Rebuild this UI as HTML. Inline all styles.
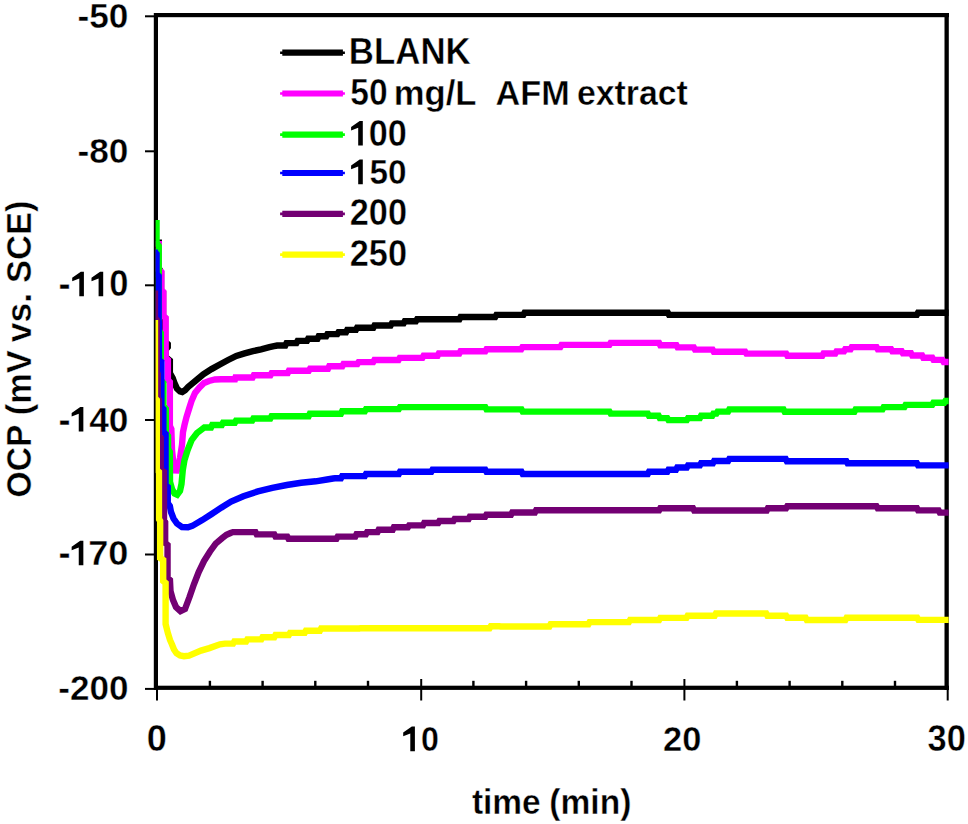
<!DOCTYPE html>
<html>
<head>
<meta charset="utf-8">
<style>
html,body{margin:0;padding:0;background:#fff;}
body{width:968px;height:824px;overflow:hidden;}
svg{display:block;}
text{font-family:"Liberation Sans",sans-serif;font-weight:bold;font-size:36px;fill:#000;font-kerning:none;stroke:#fff;stroke-width:0.4px;}
</style>
</head>
<body>
<svg width="968" height="824" viewBox="0 0 968 824">
<rect x="0" y="0" width="968" height="824" fill="#fff"/>
<g fill="#000">
<rect x="154" y="13" width="795" height="4.2"/>
<rect x="944.5" y="13" width="4.3" height="677"/>
<rect x="154" y="685.7" width="795" height="4.2"/>
<rect x="153.8" y="13" width="4.2" height="677"/>
</g>
<g stroke="#000" stroke-width="2">
<line x1="145" y1="16.3" x2="154" y2="16.3"/>
<line x1="145" y1="151.3" x2="154" y2="151.3"/>
<line x1="145" y1="285.3" x2="154" y2="285.3"/>
<line x1="145" y1="420" x2="154" y2="420"/>
<line x1="145" y1="554.5" x2="154" y2="554.5"/>
<line x1="145" y1="688.9" x2="154" y2="688.9"/>
<line x1="157" y1="686" x2="157" y2="700.5"/>
<line x1="421.2" y1="679" x2="421.2" y2="700.5"/>
<line x1="684.4" y1="679" x2="684.4" y2="700.5"/>
<line x1="947.7" y1="686" x2="947.7" y2="700.5"/>
</g>
<g stroke="#000" stroke-width="2.4">
<line x1="209.9" y1="680.8" x2="209.9" y2="686"/>
<line x1="262.6" y1="680.8" x2="262.6" y2="686"/>
<line x1="315.3" y1="680.8" x2="315.3" y2="686"/>
<line x1="368.0" y1="680.8" x2="368.0" y2="686"/>
<line x1="473.4" y1="680.8" x2="473.4" y2="686"/>
<line x1="526.1" y1="680.8" x2="526.1" y2="686"/>
<line x1="578.8" y1="680.8" x2="578.8" y2="686"/>
<line x1="631.5" y1="680.8" x2="631.5" y2="686"/>
<line x1="736.9" y1="680.8" x2="736.9" y2="686"/>
<line x1="789.6" y1="680.8" x2="789.6" y2="686"/>
<line x1="842.3" y1="680.8" x2="842.3" y2="686"/>
<line x1="895.0" y1="680.8" x2="895.0" y2="686"/>
</g>
<defs><clipPath id="pc"><rect x="155.6" y="0" width="793.2" height="824"/></clipPath></defs>
<g clip-path="url(#pc)" fill="none" stroke-width="6.4" stroke-linejoin="miter" stroke-miterlimit="2.5" stroke-linecap="butt">
<path stroke="#000000" d="M158.75,239.5 L158.75,268 L161,272 L161,290 L163,292 L163,316 L165,318 L165,341.5 L167.75,344.2 L167.75,347 L165.5,349.8 L165.5,357 L169.85,360.5 L169.85,373 L172.7,378 L174.5,383 L177,388.5 L180,391.3 L182.3,392 L185,390.3 L188,387 L195,381.3 L203.3,374.3 L211.5,369.1 L219.8,364.5 L228.1,360 L236.3,355.9 L244.6,353.4 L252.9,351.1 L261.1,349.3 L269.4,347.2 L274,346.2 L277.2,345.5 L285.3,345.5 L286.5,343.1 L296.4,343.1 L297.6,340.9 L307,340.9 L308.2,338.7 L317.5,338.7 L318.7,336.3 L326.2,336.3 L327.4,334.1 L337.3,334.1 L338.5,332.2 L346,332.2 L347.2,329.9 L355.9,329.9 L357.1,327.7 L373.3,327.7 L374.5,325.5 L390.6,325.5 L391.8,323.4 L403.6,323.4 L404.8,321.2 L415.9,321.2 L417.1,319.3 L459.4,319.3 L460.6,317 L495.2,317 L496.4,314.9 L523.4,314.9 L524.6,312.7 L667.8,312.7 L669,314.9 L916.8,314.9 L918,312.8 L948.8,312.8"/>
<path stroke="#ff00ff" d="M158.75,241 L158.75,270 L161.35,272 L161.35,290 L163.35,292 L163.35,316 L165.65,318 L165.65,358 L167.9,360 L167.9,380 L169.85,382 L169.85,426 L171.35,429 L172,450 L173.5,464 L176,472.5 L178.3,467 L180,458 L182,445 L183,432 L184.5,425 L186.5,417 L189,409 L191.5,401 L195,393 L199.5,387.5 L204,383 L209,381 L215,379.5 L221,379.2 L235,379.2 L235.5,377.5 L252.6,377.5 L253.8,375.3 L270.4,375.3 L271.6,373.1 L287.7,373.1 L288.9,370.7 L308.8,370.7 L310,368.8 L328,368.8 L329.2,366.3 L342.3,366.3 L343.5,364 L357.4,364 L358.6,362.1 L373.2,362.1 L374.4,360 L398.5,360 L399.7,357.9 L422.4,357.9 L423.6,355.7 L437.6,355.7 L438.8,353.5 L459.3,353.5 L460.5,351.3 L485.3,351.3 L486.5,349.2 L521.2,349.2 L522.4,347.1 L560.3,347.1 L561.5,344.9 L609.4,344.9 L610.6,342.9 L659.1,342.9 L660.3,345.2 L676.4,345.2 L677.6,347.4 L693.8,347.4 L695,349.6 L712.6,349.6 L713.8,351.7 L745.2,351.7 L746.4,353.6 L786.2,353.6 L787.4,355.7 L822.3,355.7 L823.5,353.5 L835.3,353.5 L836.5,351.4 L844,351.4 L845.2,349.3 L850.5,349.3 L851.7,347.1 L876.6,347.1 L877.8,349.2 L891.1,349.2 L892.3,351.2 L901.7,351.2 L902.9,353.3 L911,353.3 L912.2,355.5 L922.1,355.5 L923.3,357.8 L932.3,357.8 L933.5,359.9 L942.5,359.9 L943.7,362 L948.8,362"/>
<path stroke="#00ff00" d="M156.55,220 L156.55,243 L158.75,246 L158.75,330 L160.75,333 L160.75,380 L163.35,383 L163.35,406 L165.85,409 L165.85,433 L168.05,436 L168.05,449 L169.85,452 L170,482 L172,489 L174.5,493.5 L177.2,494.8 L180,491 L181.5,484 L182.8,470 L184.5,460 L187.6,450 L191.6,440 L197,433 L201,430 L204.3,427.5 L211,427.5 L212.2,425 L221.8,425 L223,422.8 L234.8,422.8 L236,420.6 L252.2,420.6 L253.4,418.5 L270.3,418.5 L271.5,416.3 L308.6,416.3 L309.8,413.8 L340.9,413.8 L342.1,411.3 L364.8,411.3 L366,409.1 L398.8,409.1 L400,407.1 L485.3,407.1 L486.5,409.4 L521.5,409.4 L522.7,411.6 L609.5,411.6 L610.7,413.6 L647.8,413.6 L649,415.8 L658.6,415.8 L659.8,418.1 L667.3,418.1 L668.5,420.1 L686.8,420.1 L688,418.1 L699.9,418.1 L701.1,415.8 L712.2,415.8 L713.4,413.6 L716.4,413.6 L717.6,411.6 L728.1,411.6 L729.3,409.4 L783.5,409.4 L784.7,411.7 L854.4,411.7 L855.6,409.4 L882.5,409.4 L883.7,407.1 L904.4,407.1 L905.6,404.9 L932.2,404.9 L933.4,402.8 L944.2,402.8 L945.4,401 L948.8,401"/>
<path stroke="#0000ff" d="M154.75,249.5 L154.75,252 L156.55,254 L156.55,274 L158.6,276 L158.6,320 L158.95,322 L158.95,360 L161.4,362 L161.4,407 L163.35,409 L163.35,432 L165.55,434 L165.55,485 L167.75,487 L167.75,503 L169.85,506 L171,512 L173.5,518.5 L177,523.5 L182,527 L188,527.2 L192.3,525.9 L202.2,520.1 L211.3,514.3 L221.2,507.7 L231.1,501.5 L243.4,496.2 L257.9,491.4 L272.3,487.8 L286.8,485 L301.2,482.8 L315.7,481.3 L327,479.5 L333,478.5 L335,478.3 L340.9,478.3 L342.1,476.1 L364.8,476.1 L366,474 L398.8,474 L400,471.8 L431.3,471.8 L432.5,469.7 L485.3,469.7 L486.5,471.8 L521.5,471.8 L522.7,474 L647.8,474 L649,471.8 L667.3,471.8 L668.5,469.7 L676,469.7 L677.2,467.5 L686.8,467.5 L688,465.4 L699.9,465.4 L701.1,463.2 L712.9,463.2 L714.1,461 L728.1,461 L729.3,458.9 L785.7,458.9 L786.9,461.2 L846.4,461.2 L847.6,463.3 L916.9,463.3 L918.1,465.4 L948.8,465.4"/>
<path stroke="#730073" d="M154.95,290.5 L154.95,318 L156.75,320 L156.75,372 L157.75,374 L157.75,398 L158.95,400 L158.95,436 L160.75,438 L160.75,470 L164,472 L164,520 L165.15,522 L165.15,543 L167.55,545 L167.55,578 L169.95,580 L170.5,591 L173,600 L176,607 L180.5,611.2 L185,609 L189.5,597 L194,584 L198.7,572 L204,561 L210,551.5 L215.7,543.6 L222,538.3 L226.5,534.8 L230.5,533 L233,532.1 L255.5,532.1 L256.7,534.4 L274.3,534.4 L275.5,536.6 L287.3,536.6 L288.5,538.7 L336.5,538.7 L337.7,536.6 L355.3,536.6 L356.5,534.2 L365.9,534.2 L367.1,532.1 L377.5,532.1 L378.7,529.7 L392.7,529.7 L393.9,527.2 L407.9,527.2 L409.1,525.4 L423,525.4 L424.2,523 L438.2,523 L439.4,521 L453.4,521 L454.6,519 L468.6,519 L469.8,516.7 L485.2,516.7 L486.4,514.7 L511,514.7 L512.2,512.5 L534.9,512.5 L536.1,510.3 L659.1,510.3 L660.3,508.2 L693,508.2 L694.2,510.5 L766.7,510.5 L767.9,508.2 L786.1,508.2 L787.3,506.2 L876.5,506.2 L877.7,508.2 L916.9,508.2 L918.1,510.4 L938.6,510.4 L939.8,512.6 L948.8,512.6"/>
<path stroke="#ffff00" d="M154.95,320 L154.95,398 L156.8,400 L156.8,470 L158.95,472 L158.95,519 L160.15,521 L160.15,558 L163.2,560 L163.2,581 L165.6,583 L165.6,624 L167.85,633 L170,640 L172,644.5 L174,649.5 L176.5,653.2 L180,655.5 L184,656.2 L189,655.6 L201,650.6 L209.4,648.1 L220,644.3 L225,643.6 L233.1,643.6 L234.3,641.5 L246.1,641.5 L247.3,639.4 L261.3,639.4 L262.5,637.2 L274.3,637.2 L275.5,635 L288.8,635 L290,632.9 L304.7,632.9 L305.9,630.7 L319.9,630.7 L321.1,628.5 L359.4,628.5 L360.6,628.2 L489.6,628.2 L490.8,626.3 L499.4,626.3 L500.6,626.5 L549.4,626.5 L550.6,624.3 L588.4,624.3 L589.6,622.1 L628.9,622.1 L630.1,620 L659.1,620 L660.3,617.9 L686.5,617.9 L687.7,615.7 L714.7,615.7 L715.9,613.5 L766.2,613.5 L767.4,615.7 L786.1,615.7 L787.3,617.8 L805.6,617.8 L806.8,620 L845.4,620 L846.6,617.8 L917.2,617.8 L918.4,619.9 L948.8,619.9"/>
</g>
<g>
<text transform="translate(77.52,27.50) scale(0.9787,1)">-50</text>
<text transform="translate(77.52,162.80) scale(0.9787,1)">-80</text>
<text transform="translate(58.23,700.30) scale(0.9744,1)">-200</text>
<text transform="translate(58.58,296.30) scale(1.0065,1)">-</text>
<path d="M83.90,296.30 L83.90,271.70 L80.80,271.70 L72.20,277.70 L72.20,281.30 L79.30,278.50 L79.30,296.30 Z"/>
<path d="M103.20,296.30 L103.20,271.70 L100.10,271.70 L91.50,277.70 L91.50,281.30 L98.60,278.50 L98.60,296.30 Z"/>
<text transform="translate(109.24,296.30) scale(0.9579,1)">0</text>
<text transform="translate(58.58,431.50) scale(1.0065,1)">-</text>
<path d="M83.35,431.50 L83.35,406.90 L80.25,406.90 L71.65,412.90 L71.65,416.50 L78.75,413.70 L78.75,431.50 Z"/>
<text transform="translate(89.17,431.50) scale(0.9810,1)">40</text>
<text transform="translate(58.58,565.30) scale(1.0065,1)">-</text>
<path d="M83.35,565.30 L83.35,540.70 L80.25,540.70 L71.65,546.70 L71.65,550.30 L78.75,547.50 L78.75,565.30 Z"/>
<text transform="translate(88.25,565.30) scale(1.0049,1)">70</text>
<text transform="translate(146.77,751.20) scale(1.0046,1)">0</text>
<text transform="translate(663.11,751.20) scale(0.9566,1)">20</text>
<text transform="translate(927.51,751.20) scale(0.9565,1)">30</text>
<path d="M414.90,751.20 L414.90,726.60 L411.80,726.60 L403.20,732.60 L403.20,736.20 L410.30,733.40 L410.30,751.20 Z"/>
<text transform="translate(421.03,751.20) scale(0.8936,1)">0</text>
<text transform="translate(471.89,813.90) scale(0.9302,1)">time</text>
<text transform="translate(549.33,813.90) scale(0.9325,1)">(min)</text>
<text transform="translate(31.00,0) rotate(-90) translate(-497.38,0) scale(0.9322,1)">OCP</text>
<text transform="translate(31.00,0) rotate(-90) translate(-415.21,0) scale(0.9535,1)">(mV</text>
<text transform="translate(31.00,0) rotate(-90) translate(-342.14,0) scale(0.9847,1)">vs.</text>
<text transform="translate(31.00,0) rotate(-90) translate(-283.00,0) scale(0.9606,1)">SCE)</text>
</g>
<g>
<path fill="#000000" d="M280.1,51.4 L282.3,51.4 L282.3,49.6 L342.9,49.6 L342.9,51.4 L344.9,51.4 L344.9,54.0 L342.9,54.0 L342.9,55.8 L282.3,55.8 L282.3,54.0 L280.1,54.0 Z"/>
<path fill="#ff00ff" d="M280.1,92.2 L282.3,92.2 L282.3,90.4 L342.9,90.4 L342.9,92.2 L344.9,92.2 L344.9,94.8 L342.9,94.8 L342.9,96.6 L282.3,96.6 L282.3,94.8 L280.1,94.8 Z"/>
<path fill="#00ff00" d="M280.1,133.3 L282.3,133.3 L282.3,131.5 L342.9,131.5 L342.9,133.3 L344.9,133.3 L344.9,135.9 L342.9,135.9 L342.9,137.7 L282.3,137.7 L282.3,135.9 L280.1,135.9 Z"/>
<path fill="#0000ff" d="M280.1,171.7 L282.3,171.7 L282.3,169.9 L342.9,169.9 L342.9,171.7 L344.9,171.7 L344.9,174.3 L342.9,174.3 L342.9,176.1 L282.3,176.1 L282.3,174.3 L280.1,174.3 Z"/>
<path fill="#730073" d="M280.1,212.6 L282.3,212.6 L282.3,210.8 L342.9,210.8 L342.9,212.6 L344.9,212.6 L344.9,215.2 L342.9,215.2 L342.9,217.0 L282.3,217.0 L282.3,215.2 L280.1,215.2 Z"/>
<path fill="#ffff00" d="M280.1,253.3 L282.3,253.3 L282.3,251.5 L342.9,251.5 L342.9,253.3 L344.9,253.3 L344.9,255.9 L342.9,255.9 L342.9,257.7 L282.3,257.7 L282.3,255.9 L280.1,255.9 Z"/>
</g>
<g>
<text transform="translate(348.87,64.30) scale(0.9680,1)">BLANK</text>
<text transform="translate(350.37,105.30) scale(0.9317,1)">50</text>
<text transform="translate(393.71,105.30) scale(0.9635,1)">mg/L</text>
<text transform="translate(495.55,105.30) scale(0.9508,1)">AFM</text>
<text transform="translate(576.88,105.30) scale(0.9404,1)">extract</text>
<path d="M362.80,145.50 L362.80,120.90 L359.70,120.90 L351.10,126.90 L351.10,130.50 L358.20,127.70 L358.20,145.50 Z"/>
<text transform="translate(368.65,145.50) scale(0.9504,1)">00</text>
<path d="M362.80,184.20 L362.80,159.60 L359.70,159.60 L351.10,165.60 L351.10,169.20 L358.20,166.40 L358.20,184.20 Z"/>
<text transform="translate(369.57,184.20) scale(0.9263,1)">50</text>
<text transform="translate(349.81,225.30) scale(0.9522,1)">200</text>
<text transform="translate(349.81,266.10) scale(0.9522,1)">250</text>
</g>
</svg>
</body>
</html>
